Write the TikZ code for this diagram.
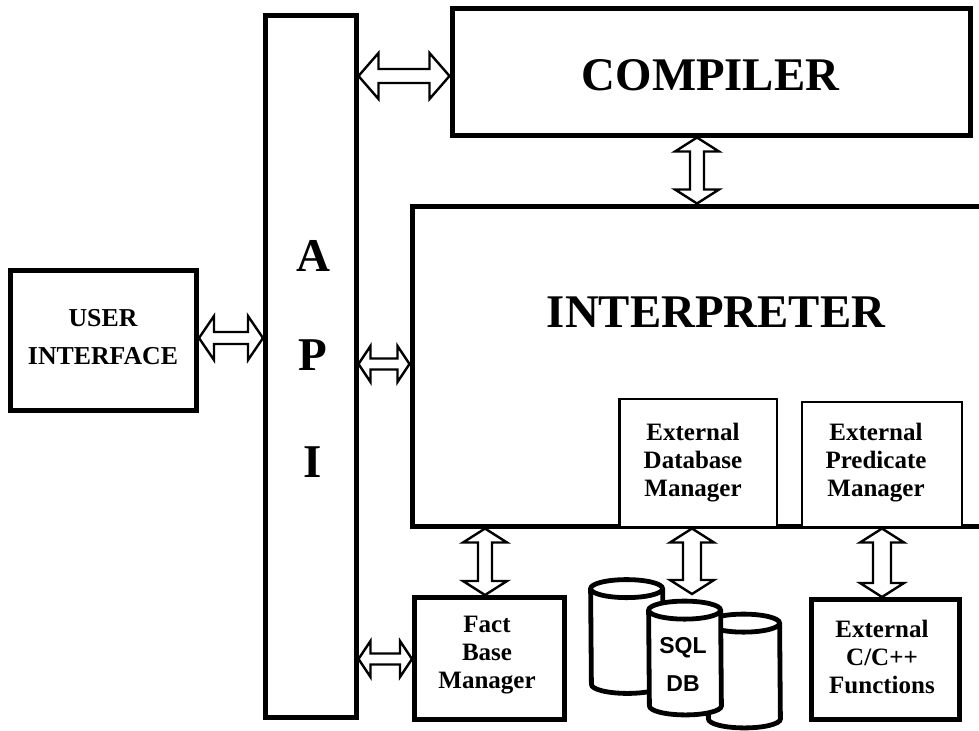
\documentclass[tikz,border=0pt]{standalone}
\usepackage{fontspec}
\setmainfont{Liberation Serif}
\newfontfamily\dbfont{Liberation Sans}
\usetikzlibrary{calc}
\tikzset{
  heavybox/.style={draw,line width=2.5pt,inner sep=0pt,fill=white},
  thinbox/.style={draw,line width=1.25pt,inner sep=0pt,fill=white},
  smalltext/.style={font=\fontsize{12.5}{14}\selectfont\bfseries,align=center},
  usertext/.style={font=\fontsize{12.9}{19}\selectfont\bfseries,align=center},
  hugetext/.style={font=\fontsize{23.4}{28}\selectfont\bfseries},
  apitext/.style={font=\fontsize{23.5}{51}\selectfont\bfseries,align=center},
  sqltext/.style={font=\dbfont\fontsize{11.5}{19}\selectfont\bfseries,align=center},
  dbframe/.style={minimum width=36pt,minimum height=56.5pt,inner sep=0pt},
  dbline/.style={draw,line width=2.4pt,fill=white},
  % hollow double arrows: head length, head half width, shaft half width
  hollowh/.style n args={3}{draw,line width=1.2pt,fill=white,to path={
    let \p1=(\tikztostart),\p2=(\tikztotarget) in
    -- (\x1+#1,\y1+#2) -- (\x1+#1,\y1+#3) -- (\x2-#1,\y1+#3) -- (\x2-#1,\y1+#2) -- (\x2,\y1)
    -- (\x2-#1,\y1-#2) -- (\x2-#1,\y1-#3) -- (\x1+#1,\y1-#3) -- (\x1+#1,\y1-#2) -- cycle}},
  hollowv/.style n args={3}{draw,line width=1.2pt,fill=white,to path={
    let \p1=(\tikztostart),\p2=(\tikztotarget) in
    -- (\x1+#2,\y1-#1) -- (\x1+#3,\y1-#1) -- (\x1+#3,\y2+#1) -- (\x1+#2,\y2+#1) -- (\x1,\y2)
    -- (\x1-#2,\y2+#1) -- (\x1-#3,\y2+#1) -- (\x1-#3,\y1-#1) -- (\x1-#2,\y1-#1) -- cycle}},
}
% name, x, y of one database drum
\newcommand{\dbdrum}[3]{
  \node[dbframe] (#1) at (#2,#3) {};
  \draw[dbline] ([yshift=-4.5pt]#1.north west) arc[start angle=180,end angle=0,x radius=18pt,y radius=4.5pt]
    -- ([yshift=4.5pt]#1.south east) arc[start angle=0,end angle=-180,x radius=18pt,y radius=4.5pt] -- cycle;
  \draw[dbline] ([yshift=-4.5pt]#1.north west) arc[start angle=180,end angle=360,x radius=18pt,y radius=4.5pt];
}
\begin{document}
\begin{tikzpicture}[x=0.5pt,y=-0.5pt]
  \clip (0,0) rectangle (979,730);

  % Main boxes
  \node[heavybox,minimum width=45.25pt,minimum height=351.25pt] (api) at (310.75,366.25) {};
  \node[heavybox,minimum width=259.25pt,minimum height=63.5pt] (compiler) at (711.25,71.5) {};
  \node[heavybox,minimum width=299pt,minimum height=160pt] (interp) at (711,366) {};
  \node[heavybox,minimum width=93pt,minimum height=70pt] (user) at (103.5,340.5) {};

  % Managers inside the interpreter
  \node[thinbox,minimum width=78.75pt,minimum height=64pt] (extdb) at (698.25,463) {};
  \node[thinbox,minimum width=80pt,minimum height=62.5pt] (extpred) at (882,464.5) {};

  % Lower row
  \node[heavybox,minimum width=75pt,minimum height=61pt] (fact) at (489.5,658.5) {};
  \node[heavybox,minimum width=73.75pt,minimum height=59.75pt] (cfun) at (885.25,659.25) {};

  % Databases
  \dbdrum{dba}{627}{636.5}
  \dbdrum{dbc}{744}{671}
  \dbdrum{dbb}{685}{658}

  % Labels
  \node[apitext] (apilabel) at (313,359) {A\\[-1.5pt]P\\[2.5pt]I};
  \node[hugetext] (compilerlabel) at (710.5,75) {COMPILER};
  \node[hugetext] (interplabel) at (716,312) {INTERPRETER};
  \node[usertext] (userlabel) at (103,337) {USER\\INTERFACE};
  \node[smalltext] (extdblabel) at (693,463) {External\\Database\\Manager};
  \node[smalltext] (extpredlabel) at (876,463) {External\\Predicate\\Manager};
  \node[smalltext] (factlabel) at (487,655.5) {Fact\\Base\\Manager};
  \node[smalltext] (cfunlabel) at (882,657) {External\\C/C++\\Functions};
  \node[sqltext] (dblabel) at (683,664) {SQL\\DB};

  % Arrow rows and columns
  \coordinate (rowa) at (0,76);
  \coordinate (rowb) at (0,338);
  \coordinate (rowc) at (0,364);
  \coordinate (rowd) at (0,659);
  \coordinate (rowe) at (0,594);
  \coordinate (cola) at (697,0);
  \coordinate (colb) at (485,0);
  \coordinate (colc) at (692,0);
  \coordinate (cold) at (882,0);

  % Horizontal arrows
  \draw[hollowh={10pt}{11.5pt}{3.5pt}] (api.east|-rowa) to (compiler.west|-rowa);
  \draw[hollowh={7.5pt}{11pt}{3pt}] (user.east|-rowb) to (api.west|-rowb);
  \draw[hollowh={6pt}{9pt}{2.75pt}] (api.east|-rowc) to (interp.west|-rowc);
  \draw[hollowh={6pt}{9pt}{2.75pt}] (api.east|-rowd) to (fact.west|-rowd);

  % Vertical arrows
  \draw[hollowv={7pt}{11pt}{3.5pt}] (cola|-compiler.south) to (cola|-interp.north);
  \draw[hollowv={7pt}{11pt}{3.5pt}] (colb|-interp.south) to (colb|-fact.north);
  \draw[hollowv={7pt}{11pt}{4.5pt}] (colc|-interp.south) to (colc|-rowe);
  \draw[hollowv={7pt}{11pt}{4.5pt}] (cold|-interp.south) to (cold|-cfun.north);
\end{tikzpicture}
\end{document}
